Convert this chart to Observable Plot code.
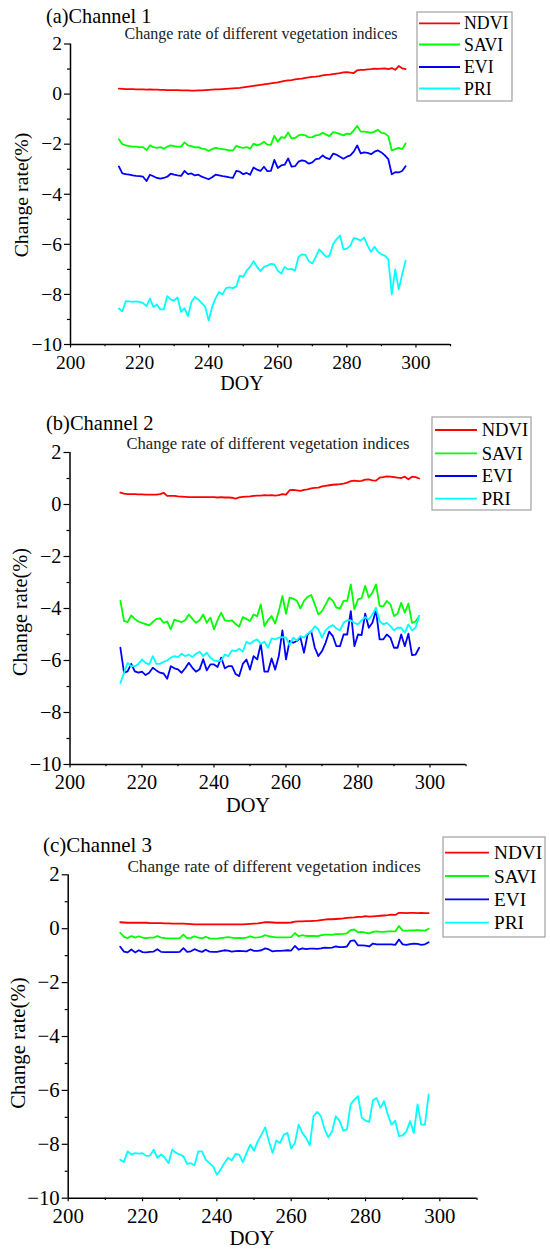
<!DOCTYPE html>
<html>
<head>
<meta charset="utf-8">
<script src="https://cdn.jsdelivr.net/npm/d3@7"></script>
<script src="https://cdn.jsdelivr.net/npm/@observablehq/plot@0.6"></script>
<style>
  html, body { margin: 0; padding: 0; background: #fff; }
  #page { position: relative; width: 550px; height: 1253px; overflow: hidden; background: #fff; }
  .panel { position: absolute; left: 0; }
  #overlay { position: absolute; left: 0; top: 0; pointer-events: none; }
  #page svg, #page svg text { font-family: "Liberation Serif", "Times New Roman", Times, serif !important; }
</style>
</head>
<body>
<div id="page"></div>
<script>
// ---------- data ----------
const doy = [214,215,216,217,218,219,220,221,222,223,224,225,226,227,228,229,230,231,232,233,
  234,235,236,237,238,239,240,241,242,243,244,245,246,247,248,249,250,251,252,253,
  254,255,256,257,258,259,260,261,262,263,264,265,266,267,268,269,270,271,272,273,
  274,275,276,277,278,279,280,281,282,283,284,285,286,287,288,289,290,291,292,293,
  294,295,296,297];
const indices = ["NDVI", "SAVI", "EVI", "PRI"];
const colors = ["#ff0000", "#00ff00", "#0000ff", "#00ffff"];
const xDomain = [200, 310];
const yDomain = [-10, 2];
const xTicks = [200, 220, 240, 260, 280, 300];
const xMinor = [210, 230, 250, 270, 290, 310];
const yTicks = [2, 0, -2, -4, -6, -8, -10];
const yMinor = [1, -1, -3, -5, -7, -9];
const panelTitles = ["(a)Channel 1", "(b)Channel 2", "(c)Channel 3"];
const subtitle = "Change rate of different vegetation indices";
const xLabel = "DOY";
const yLabel = "Change rate(%)";

// Channel 1
const ch1NDVI = [0.22,0.21,0.20,0.20,0.20,0.19,0.19,0.19,0.18,0.19,
  0.18,0.18,0.17,0.17,0.16,0.16,0.16,0.16,0.15,0.15,
  0.15,0.14,0.14,0.15,0.15,0.16,0.17,0.18,0.19,0.19,
  0.20,0.21,0.22,0.23,0.24,0.25,0.27,0.29,0.31,0.33,
  0.35,0.37,0.39,0.41,0.43,0.45,0.47,0.50,0.53,0.55,
  0.56,0.59,0.61,0.62,0.65,0.67,0.69,0.70,0.72,0.75,
  0.77,0.78,0.80,0.82,0.84,0.87,0.88,0.86,0.84,0.95,
  0.97,0.97,0.99,1.00,1.02,1.01,1.02,1.03,1.00,1.04,
  0.97,1.12,1.03,1.00];
const ch1SAVI = [-1.80,-2.00,-2.05,-2.08,-2.10,-2.10,-2.12,-2.12,-2.24,-2.05,
  -2.12,-2.15,-2.12,-2.18,-2.10,-2.05,-2.08,-2.10,-2.10,-1.93,
  -2.05,-2.08,-2.13,-2.12,-2.18,-2.20,-2.27,-2.20,-2.15,-2.18,
  -2.20,-2.22,-2.25,-2.25,-2.07,-2.12,-2.15,-2.12,-2.18,-1.98,
  -2.05,-2.00,-1.90,-2.02,-2.03,-1.67,-1.90,-1.72,-1.75,-1.53,
  -1.78,-1.75,-1.65,-1.62,-1.65,-1.73,-1.72,-1.65,-1.63,-1.55,
  -1.62,-1.68,-1.52,-1.55,-1.60,-1.65,-1.58,-1.60,-1.45,-1.27,
  -1.50,-1.50,-1.52,-1.55,-1.50,-1.43,-1.55,-1.57,-1.68,-2.25,
  -2.20,-2.15,-2.20,-1.97];
const ch1EVI = [-2.89,-3.17,-3.20,-3.22,-3.25,-3.27,-3.28,-3.30,-3.47,-3.22,
  -3.28,-3.35,-3.38,-3.35,-3.30,-3.18,-3.22,-3.25,-3.27,-3.07,
  -3.20,-3.17,-3.25,-3.22,-3.30,-3.35,-3.40,-3.32,-3.22,-3.25,
  -3.28,-3.30,-3.33,-3.35,-3.07,-3.10,-3.20,-3.15,-3.22,-2.93,
  -3.02,-3.07,-2.90,-3.08,-3.07,-2.63,-2.95,-2.85,-2.82,-2.57,
  -2.90,-2.88,-2.70,-2.65,-2.68,-2.78,-2.73,-2.60,-2.58,-2.45,
  -2.55,-2.60,-2.38,-2.42,-2.50,-2.58,-2.50,-2.45,-2.30,-2.05,
  -2.37,-2.33,-2.35,-2.40,-2.30,-2.25,-2.33,-2.45,-2.60,-3.20,
  -3.12,-3.13,-3.07,-2.88];
const ch1PRI = [-8.56,-8.67,-8.27,-8.28,-8.30,-8.28,-8.30,-8.35,-8.47,-8.17,
  -8.50,-8.40,-8.60,-8.60,-8.07,-8.20,-8.25,-8.12,-8.70,-8.55,
  -8.87,-8.30,-8.10,-8.20,-8.35,-8.50,-9.04,-8.50,-8.15,-7.90,
  -8.00,-7.75,-7.72,-7.75,-7.68,-7.25,-7.30,-7.05,-6.90,-6.67,
  -6.90,-7.07,-6.90,-6.85,-6.78,-6.80,-7.05,-7.17,-6.90,-7.00,
  -6.98,-7.05,-6.50,-6.40,-6.42,-6.68,-6.77,-6.50,-6.20,-6.35,
  -6.50,-6.45,-6.00,-5.80,-5.65,-6.20,-6.17,-6.05,-5.75,-5.78,
  -5.85,-5.73,-6.05,-6.30,-6.10,-6.30,-6.40,-6.45,-6.60,-8.00,
  -7.00,-7.80,-7.20,-6.65];

// Channel 2
const ch2NDVI = [0.46,0.42,0.40,0.40,0.40,0.39,0.39,0.38,0.38,0.38,
  0.38,0.40,0.45,0.33,0.33,0.33,0.31,0.30,0.29,0.28,
  0.28,0.28,0.28,0.28,0.28,0.28,0.28,0.27,0.28,0.27,
  0.27,0.26,0.23,0.27,0.29,0.30,0.31,0.33,0.34,0.34,
  0.36,0.35,0.36,0.34,0.36,0.40,0.38,0.55,0.56,0.54,
  0.52,0.56,0.58,0.62,0.64,0.65,0.70,0.72,0.74,0.76,
  0.77,0.78,0.80,0.84,0.90,0.92,0.90,0.91,0.96,0.97,
  0.93,0.92,1.03,1.05,1.08,1.07,1.05,1.03,1.02,1.07,
  0.97,1.07,1.05,1.00];
const ch2SAVI = [-3.71,-4.48,-4.52,-4.27,-4.40,-4.50,-4.55,-4.60,-4.65,-4.52,
  -4.40,-4.38,-4.55,-4.50,-4.80,-4.43,-4.48,-4.52,-4.45,-4.23,
  -4.40,-4.55,-4.45,-4.23,-4.55,-4.35,-4.80,-4.45,-4.16,-4.46,
  -4.48,-4.46,-4.60,-4.70,-4.33,-4.40,-4.48,-4.23,-4.30,-3.84,
  -4.68,-4.45,-4.29,-4.58,-4.10,-3.52,-4.20,-3.58,-3.62,-3.70,
  -4.00,-3.71,-3.55,-3.48,-3.84,-4.23,-4.10,-3.85,-3.58,-3.70,
  -3.97,-4.00,-3.71,-3.71,-3.07,-4.03,-3.65,-3.60,-3.13,-3.58,
  -3.39,-3.07,-3.90,-3.92,-3.71,-3.84,-4.29,-4.20,-3.78,-4.16,
  -3.81,-4.55,-4.50,-4.29];
const ch2EVI = [-5.51,-6.47,-6.42,-6.13,-6.42,-6.47,-6.43,-6.56,-6.47,-6.28,
  -6.38,-6.47,-6.50,-6.70,-6.22,-6.30,-6.34,-6.47,-6.30,-6.09,
  -6.28,-6.43,-6.34,-5.95,-6.38,-6.15,-6.15,-6.25,-5.89,-6.30,
  -6.22,-6.22,-6.52,-6.60,-6.13,-5.96,-6.35,-5.83,-5.96,-5.36,
  -6.43,-6.43,-5.92,-6.35,-5.83,-4.84,-5.96,-5.25,-5.32,-5.25,
  -5.12,-5.70,-5.00,-4.87,-5.51,-5.83,-5.64,-5.32,-4.89,-5.06,
  -5.45,-5.45,-5.00,-5.00,-4.10,-5.45,-5.00,-5.02,-4.20,-4.74,
  -4.55,-4.07,-5.19,-5.19,-5.00,-5.12,-5.51,-5.51,-5.00,-5.45,
  -4.97,-5.79,-5.77,-5.51];
const ch2PRI = [-6.86,-6.47,-6.09,-6.22,-6.22,-6.13,-5.96,-6.09,-6.15,-5.83,
  -6.13,-6.13,-6.05,-6.00,-5.89,-5.83,-5.87,-5.74,-5.83,-5.77,
  -5.87,-5.74,-5.66,-5.83,-5.70,-5.89,-6.00,-6.02,-6.00,-5.77,
  -5.83,-5.61,-5.64,-5.55,-5.66,-5.28,-5.36,-5.25,-5.19,-5.36,
  -5.28,-5.51,-5.15,-5.19,-5.12,-5.10,-5.12,-5.41,-5.12,-5.23,
  -5.06,-5.12,-4.97,-4.89,-4.68,-4.80,-5.12,-4.84,-4.71,-4.64,
  -4.77,-4.84,-4.55,-4.46,-4.46,-4.55,-4.61,-4.46,-4.33,-4.42,
  -4.23,-3.97,-4.48,-4.61,-4.55,-4.68,-4.84,-4.74,-4.74,-4.93,
  -4.61,-4.84,-4.74,-4.29];

// Channel 3
const ch3NDVI = [0.24,0.23,0.22,0.22,0.22,0.22,0.22,0.22,0.21,0.21,
  0.21,0.21,0.20,0.20,0.19,0.19,0.19,0.19,0.18,0.17,
  0.16,0.16,0.16,0.16,0.16,0.16,0.16,0.16,0.16,0.16,
  0.16,0.16,0.16,0.16,0.17,0.18,0.19,0.20,0.22,0.24,
  0.24,0.23,0.22,0.22,0.22,0.22,0.23,0.26,0.27,0.27,
  0.28,0.28,0.29,0.30,0.32,0.34,0.35,0.35,0.36,0.37,
  0.38,0.40,0.41,0.42,0.44,0.44,0.47,0.45,0.46,0.47,
  0.48,0.49,0.50,0.52,0.51,0.59,0.59,0.58,0.59,0.59,
  0.58,0.59,0.58,0.58];
const ch3SAVI = [-0.15,-0.30,-0.35,-0.27,-0.33,-0.28,-0.33,-0.35,-0.33,-0.33,
  -0.27,-0.33,-0.35,-0.36,-0.36,-0.36,-0.35,-0.22,-0.35,-0.34,
  -0.28,-0.33,-0.36,-0.30,-0.36,-0.37,-0.37,-0.35,-0.33,-0.31,
  -0.33,-0.35,-0.34,-0.35,-0.33,-0.28,-0.33,-0.32,-0.30,-0.24,
  -0.28,-0.30,-0.32,-0.32,-0.32,-0.32,-0.31,-0.16,-0.28,-0.24,
  -0.27,-0.27,-0.27,-0.28,-0.25,-0.22,-0.22,-0.23,-0.20,-0.20,
  -0.19,-0.17,-0.05,-0.03,-0.14,-0.12,-0.15,-0.17,-0.12,-0.10,
  -0.12,-0.12,-0.10,-0.10,-0.10,0.10,-0.07,-0.07,-0.06,-0.06,
  -0.05,-0.06,-0.07,0.00];
const ch3EVI = [-0.67,-0.85,-0.88,-0.77,-0.88,-0.80,-0.87,-0.88,-0.86,-0.85,
  -0.76,-0.86,-0.87,-0.87,-0.87,-0.87,-0.86,-0.72,-0.86,-0.84,
  -0.76,-0.82,-0.86,-0.78,-0.85,-0.86,-0.86,-0.83,-0.80,-0.81,
  -0.85,-0.83,-0.82,-0.83,-0.84,-0.77,-0.82,-0.82,-0.80,-0.73,
  -0.77,-0.84,-0.82,-0.82,-0.81,-0.80,-0.81,-0.64,-0.78,-0.73,
  -0.76,-0.74,-0.74,-0.75,-0.73,-0.70,-0.71,-0.70,-0.66,-0.68,
  -0.68,-0.66,-0.45,-0.43,-0.62,-0.62,-0.63,-0.66,-0.55,-0.58,
  -0.58,-0.58,-0.58,-0.58,-0.60,-0.40,-0.58,-0.60,-0.57,-0.55,
  -0.56,-0.60,-0.58,-0.50];
const ch3PRI = [-8.57,-8.66,-8.26,-8.38,-8.33,-8.35,-8.33,-8.43,-8.42,-8.20,
  -8.50,-8.38,-8.50,-8.70,-8.20,-8.32,-8.38,-8.45,-8.73,-8.70,
  -8.78,-8.26,-8.26,-8.57,-8.70,-8.82,-9.13,-8.94,-8.70,-8.50,
  -8.60,-8.36,-8.38,-8.66,-8.32,-8.01,-8.24,-7.89,-7.64,-7.37,
  -7.89,-8.32,-7.86,-7.95,-7.64,-7.58,-8.16,-7.95,-7.27,-7.58,
  -7.76,-8.04,-6.96,-6.80,-6.96,-7.45,-7.74,-7.52,-6.96,-7.12,
  -7.49,-7.45,-6.52,-6.34,-6.21,-7.02,-7.12,-7.17,-6.37,-6.28,
  -6.65,-6.40,-6.90,-7.27,-7.12,-7.70,-7.67,-7.52,-7.14,-7.58,
  -6.52,-7.27,-7.27,-6.15];

const channelSeries = [
  [ch1NDVI, ch1SAVI, ch1EVI, ch1PRI],
  [ch2NDVI, ch2SAVI, ch2EVI, ch2PRI],
  [ch3NDVI, ch3SAVI, ch3EVI, ch3PRI]
];

// ---------- layout (page pixels) ----------
const FONT = '"Liberation Serif", "Times New Roman", Times, serif';
const layout = [
  {top: 0, height: 420, mt: 43.5, mb: 76, ml: 70, mr: 100, tick: 19.5,
   title: {x: 46, y: 23, fs: 20.3}, sub: {x: 261, y: 39, fs: 16},
   xl: {x: 242, y: 390, fs: 20}, yl: {x: 28, y: 195, fs: 19.8},
   leg: {x: 417, y: 12, w: 95, h: 89, rows: [11.3, 32.5, 55, 76.5], l0: 2, l1: 43, tx: 47, fs: 17.8}},
  {top: 410, height: 420, mt: 42, mb: 66, ml: 69.5, mr: 84.5, tick: 20.3,
   title: {x: 46, y: 430, fs: 20.5}, sub: {x: 268, y: 449, fs: 16.6},
   xl: {x: 248, y: 812, fs: 20.4}, yl: {x: 27, y: 612, fs: 20.3},
   leg: {x: 432, y: 417, w: 99, h: 93, rows: [13, 36.3, 59, 81.7], l0: 3, l1: 45, tx: 49.7, fs: 18.6}},
  {top: 830, height: 423, mt: 44.3, mb: 55.3, ml: 67.7, mr: 73.5, tick: 20.8,
   title: {x: 43, y: 852, fs: 21}, sub: {x: 274, y: 872, fs: 17.2},
   xl: {x: 252, y: 1245, fs: 20.8}, yl: {x: 24.5, y: 1043, fs: 20.9},
   leg: {x: 443, y: 837, w: 102, h: 100, rows: [15.7, 39, 62.3, 85.7], l0: 2, l1: 46, tx: 51, fs: 19.3}}
];

const page = document.getElementById("page");

channelSeries.forEach((series, p) => {
  const L = layout[p];
  const rows = [];
  indices.forEach((name, k) => {
    series[k].forEach((v, i) => rows.push({doy: doy[i], value: v, index: name}));
  });
  const chart = Plot.plot({
    width: 550,
    height: L.height,
    marginTop: L.mt, marginBottom: L.mb, marginLeft: L.ml, marginRight: L.mr,
    x: {domain: xDomain},
    y: {domain: yDomain},
    color: {domain: indices, range: colors},
    style: {fontFamily: FONT, fontSize: L.tick + "px", color: "#000", background: "transparent", overflow: "visible"},
    marks: [
      Plot.line(rows, {x: "doy", y: "value", z: "index", stroke: "index", strokeWidth: 1.8}),
      Plot.axisX({ticks: xTicks, tickSize: 3.5, tickPadding: 7, tickFormat: d3.format("d"), fontSize: L.tick, fontFamily: FONT, label: null, strokeWidth: 1.2}),
      Plot.axisX({ticks: xMinor, tickSize: 2.2, tickFormat: () => "", label: null, strokeWidth: 1.2}),
      Plot.axisY({ticks: yTicks, tickSize: 6, tickPadding: 2.5, tickFormat: d3.format("d"), fontSize: L.tick, fontFamily: FONT, label: null, strokeWidth: 1.2}),
      Plot.axisY({ticks: yMinor, tickSize: 3, tickFormat: () => "", label: null, strokeWidth: 1.2}),
      Plot.ruleX([xDomain[0]], {strokeWidth: 1.5}),
      Plot.ruleY([yDomain[0]], {strokeWidth: 1.5})
    ]
  });
  const holder = document.createElement("div");
  holder.className = "panel";
  holder.style.top = L.top + "px";
  holder.appendChild(chart);
  page.appendChild(holder);
});

// ---------- text overlay: titles, subtitles, axis labels, legends ----------
const overlay = d3.create("svg")
  .attr("id", "overlay")
  .attr("width", 550).attr("height", 1253)
  .attr("font-family", FONT)
  .attr("fill", "#000");

layout.forEach((L, p) => {
  overlay.append("text").attr("x", L.title.x).attr("y", L.title.y)
    .attr("font-size", L.title.fs).text(panelTitles[p]);
  overlay.append("text").attr("x", L.sub.x).attr("y", L.sub.y)
    .attr("font-size", L.sub.fs).attr("text-anchor", "middle").attr("fill", "#222").text(subtitle);
  overlay.append("text").attr("x", L.xl.x).attr("y", L.xl.y)
    .attr("font-size", L.xl.fs).attr("text-anchor", "middle").text(xLabel);
  overlay.append("text")
    .attr("transform", `translate(${L.yl.x},${L.yl.y}) rotate(-90)`)
    .attr("font-size", L.yl.fs).attr("text-anchor", "middle").text(yLabel);

  const g = overlay.append("g").attr("transform", `translate(${L.leg.x},${L.leg.y})`);
  g.append("rect").attr("width", L.leg.w).attr("height", L.leg.h)
    .attr("fill", "#fff").attr("stroke", "#a8a8a8").attr("stroke-width", 1.3);
  indices.forEach((name, k) => {
    const yy = L.leg.rows[k];
    g.append("line").attr("x1", L.leg.l0).attr("x2", L.leg.l1).attr("y1", yy).attr("y2", yy)
      .attr("stroke", colors[k]).attr("stroke-width", 1.8);
    g.append("text").attr("x", L.leg.tx).attr("y", yy).attr("dy", "0.34em")
      .attr("font-size", L.leg.fs).text(name);
  });
});

page.appendChild(overlay.node());
</script>
</body>
</html>
